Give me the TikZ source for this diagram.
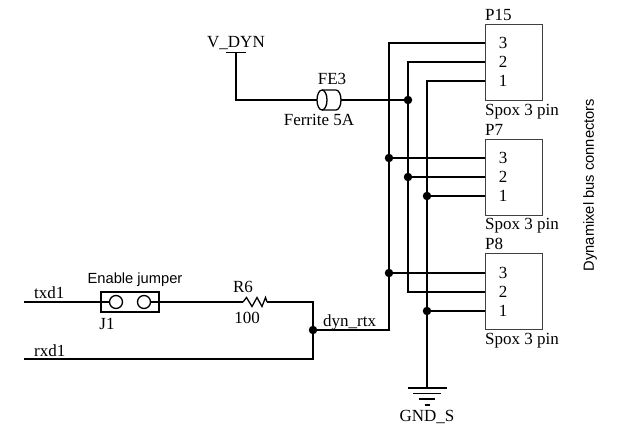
\documentclass[tikz,border=0pt]{standalone}
\usepackage{fontspec}
\setmainfont{Liberation Serif}
\setsansfont{Liberation Sans}
\tikzset{
    wire/.style={line width=1.3pt, line join=miter},
    conbox/.style={rectangle, draw=black!75, line width=0.8pt, minimum width=57pt, minimum height=76pt, inner sep=0pt},
    dot/.style={circle, fill=black, inner sep=0pt, minimum size=8.5pt},
    lbl/.style={inner sep=0pt, font=\fontsize{17}{17}\selectfont},
    lblsans/.style={inner sep=0pt, font=\sffamily\fontsize{14.7}{14.7}\selectfont},
    pin/.style={circle, draw, line width=1.3pt, inner sep=0pt, minimum size=13pt},
}
\begin{document}
\begin{tikzpicture}[x=1pt, y=-1pt]
    \useasboundingbox (0,0) rectangle (619,431);
    % connectors
    \node[conbox] (p15) at (513.5,62) {};
    \node[conbox] (p7) at (513.5,177) {};
    \node[conbox] (p8) at (513.5,291.5) {};
    \node[lbl, anchor=west] (p15name) at (485,15) {P15};
    \node[lbl, anchor=west] (p7name) at (485,130) {P7};
    \node[lbl, anchor=west] (p8name) at (485,244) {P8};
    \node[lbl, anchor=west] (p15type) at (485,112) {Spox 3 pin};
    \node[lbl, anchor=west] (p7type) at (485,226) {Spox 3 pin};
    \node[lbl, anchor=west] (p8type) at (485,341) {Spox 3 pin};
    \node[lbl] (p15c) at (503,43) {3};
    \node[lbl] (p15b) at (503,62) {2};
    \node[lbl] (p15a) at (503,81) {1};
    \node[lbl] (p7c) at (503,158) {3};
    \node[lbl] (p7b) at (503,177) {2};
    \node[lbl] (p7a) at (503,196) {1};
    \node[lbl] (p8c) at (503,273) {3};
    \node[lbl] (p8b) at (503,292) {2};
    \node[lbl] (p8a) at (503,311) {1};
    \node[lblsans, rotate=90] (buslabel) at (590,185) {Dynamixel bus connectors};
    % junctions
    \node[dot] (j1) at (408,100) {};
    \node[dot] (j2) at (389,158) {};
    \node[dot] (j3) at (408,177) {};
    \node[dot] (j4) at (427,196) {};
    \node[dot] (j5) at (389,273) {};
    \node[dot] (j6) at (427,311) {};
    \node[dot] (j7) at (313,330) {};
    % free ends
    \coordinate (p15c0) at (485,43);
    \coordinate (p15b0) at (485,62);
    \coordinate (p15a0) at (485,81);
    \coordinate (p7c0) at (485,158);
    \coordinate (p7b0) at (485,177);
    \coordinate (p7a0) at (485,196);
    \coordinate (p8c0) at (485,273);
    \coordinate (p8b0) at (485,292);
    \coordinate (p8a0) at (485,311);
    \coordinate (gnd) at (427,388);
    \coordinate (vdyn) at (236,52.5);
    \coordinate (fe3l) at (317,100);
    \coordinate (fe3r) at (341,100);
    \coordinate (txd) at (24,302);
    \coordinate (rxd) at (24,359);
    \coordinate (r6l) at (243,302);
    \coordinate (r6r) at (267,302);
    % labels
    \node[lbl] (vdynname) at (236,43) {V\_DYN};
    \node[lbl] (fe3name) at (332,79) {FE3};
    \node[lbl] (fe3val) at (319,120) {Ferrite 5A};
    \node[lbl, anchor=west] (txdname) at (34,293) {txd1};
    \node[lbl, anchor=west] (rxdname) at (34,351) {rxd1};
    \node[lblsans] (j1val) at (135,280) {Enable jumper};
    \node[lbl] (j1name) at (107,324) {J1};
    \node[lbl] (r6name) at (243,287) {R6};
    \node[lbl] (r6val) at (247,318) {100};
    \node[lbl, anchor=west] (rtxname) at (323,322) {dyn\_rtx};
    \node[lbl] (gndname) at (427,417) {GND\_S};
    % jumper
    \node[rectangle, draw, line width=1.3pt, minimum width=58pt, minimum height=20pt, inner sep=0pt] (j1box) at (130,302) {};
    \node[pin] (j1a) at (116,302) {};
    \node[pin] (j1b) at (144,302) {};
    % wires
    \draw[wire] (txd) -- (j1a);
    \draw[wire] (j1b) -- (r6l);
    \draw[wire] (r6l) -- ++(3.5,-4.5) -- ++(5.5,9) -- ++(5,-9) -- ++(5,9) -- ++(3.5,-9) -- (r6r);
    \draw[wire] (r6r) -- (313,302) -- (j7.center);
    \draw[wire] (rxd) -- (313,359) -- (j7.center);
    \draw[wire] (j7.center) -- (389,330) -- (389,43) -- (p15c0);
    \draw[wire] (j2.center) -- (p7c0);
    \draw[wire] (j5.center) -- (p8c0);
    \draw[wire] (p15b0) -- (408,62) -- (408,292) -- (p8b0);
    \draw[wire] (j3.center) -- (p7b0);
    \draw[wire] (p15a0) -- (427,81) -- (gnd);
    \draw[wire] (j4.center) -- (p7a0);
    \draw[wire] (j6.center) -- (p8a0);
    \draw[wire] (vdyn) -- (236,100) -- (fe3l);
    \draw[wire] (fe3r) -- (j1.center);
    % V_DYN bar
    \draw[wire] ([xshift=-10pt]vdyn) -- ([xshift=10pt]vdyn);
    % ferrite
    \draw[wire] (322,90) -- (336,90) arc[start angle=-90, end angle=90, x radius=5, y radius=10] -- (322,110);
    \draw[wire] (322,100) ellipse[x radius=5, y radius=10];
    % ground
    \draw[wire] ([xshift=-19.5pt]gnd) -- ([xshift=19.5pt]gnd);
    \draw[wire] ([xshift=-14pt, yshift=-5.5pt]gnd) -- ([xshift=14pt, yshift=-5.5pt]gnd);
    \draw[wire] ([xshift=-8pt, yshift=-11pt]gnd) -- ([xshift=8pt, yshift=-11pt]gnd);
    \draw[wire] ([xshift=-2.5pt, yshift=-17pt]gnd) -- ([xshift=2.5pt, yshift=-17pt]gnd);
\end{tikzpicture}
\end{document}
